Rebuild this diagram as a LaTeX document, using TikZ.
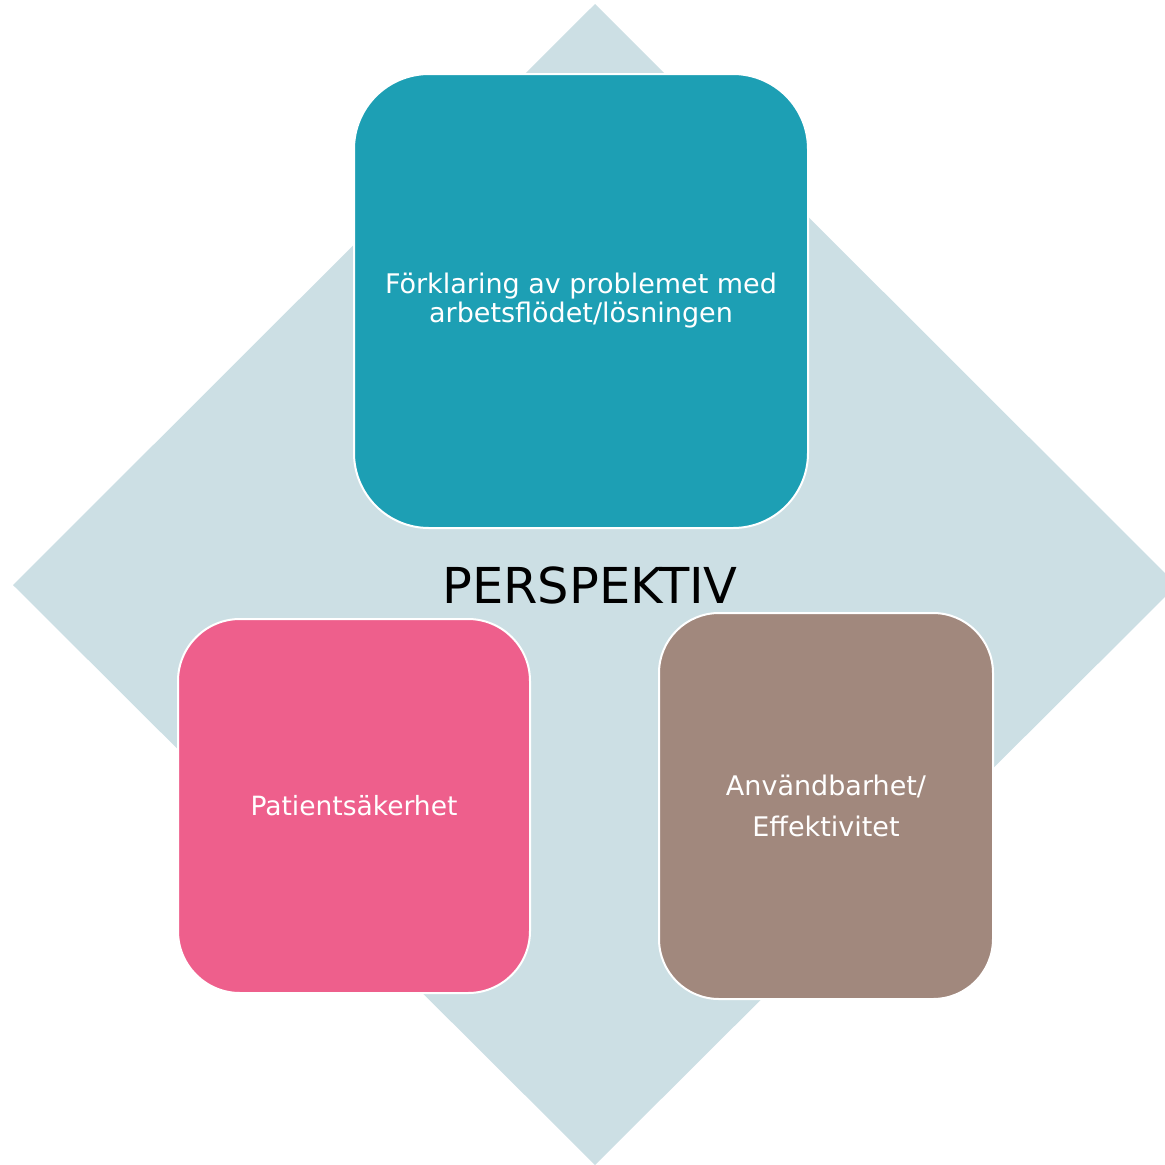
\documentclass[tikz,border=0pt]{standalone}
\usepackage{fontspec}
\setmainfont{DejaVu Sans}
\definecolor{diamondblue}{HTML}{CCDFE4}
\definecolor{tealbox}{HTML}{1D9FB4}
\definecolor{pinkbox}{HTML}{EE5F8C}
\definecolor{brownbox}{HTML}{A1887D}
\tikzset{
  box/.style={draw=white,line width=2pt,text=white,align=center,inner sep=0pt},
}
\begin{document}
\begin{tikzpicture}[x=1pt,y=-1pt]
\path[use as bounding box] (0,0) rectangle (1165,1165);
\fill[diamondblue] (595,4) -- (1177,585) -- (595,1165) -- (13,585) -- cycle;
\node[box,fill=tealbox,minimum width=454pt,minimum height=454pt,rounded corners=75pt,font=\fontsize{27}{29}\selectfont] (explain) at (581,301) {Förklaring av problemet med\\ arbetsflödet/lösningen};
\node[anchor=center,inner sep=0pt,font=\fontsize{49.5}{52}\selectfont] (title) at (590,585) {PERSPEKTIV};
\node[box,fill=pinkbox,minimum width=352pt,minimum height=374pt,rounded corners=62pt,font=\fontsize{26.5}{30}\selectfont] (safety) at (354,806) {Patientsäkerhet};
\node[box,fill=brownbox,minimum width=334pt,minimum height=386pt,rounded corners=60pt,font=\fontsize{27}{41}\selectfont] (usability) at (826,806) {Användbarhet/\\ Effektivitet};
\end{tikzpicture}
\end{document}
